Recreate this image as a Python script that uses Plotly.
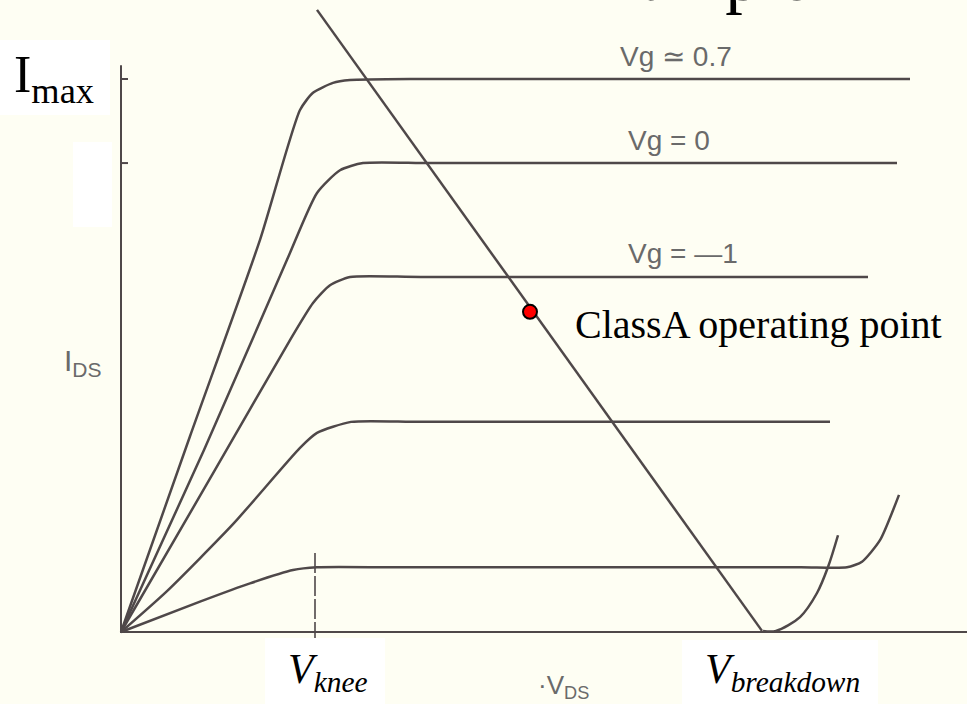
import plotly.graph_objects as go

# ---------------- data (V_DS in volts, I_DS in % of Imax) ----------------
vg07_v = [0, 1.38, 2.78, 3.58, 3.84, 4.24, 4.58, 6.0, 15.78]
vg07_i = [0, 35.4, 70.9, 94.4, 97.5, 99.3, 99.8, 100, 100]

vg0_v = [0, 1.66, 3.32, 3.92, 4.38, 4.84, 6.2, 15.52]
vg0_i = [0, 32.9, 67.3, 79.4, 83.5, 84.8, 84.8, 84.8]

vgm1_v = [0, 1.88, 3.38, 3.84, 4.18, 4.58, 6.0, 14.94]
vgm1_i = [0, 29.3, 52.8, 59.5, 62.7, 64.2, 64.2, 64.2]

vg4_v = [0, 0.92, 2.24, 3.58, 3.92, 4.6, 6.0, 14.18]
vg4_i = [0, 7.4, 19.5, 33.3, 36.0, 38.0, 38.0, 38.0]

vg5_v = [0, 1.58, 2.58, 3.44, 3.92, 5.5, 13.6, 14.52, 14.82, 15.18, 15.56]
vg5_i = [0, 5.5, 8.8, 11.2, 11.7, 11.7, 11.7, 11.7, 12.7, 16.6, 24.8]

brk_v = [12.84, 13.1, 13.58, 13.92, 14.14, 14.34]
brk_i = [0.2, 0.2, 2.7, 7.05, 11.75, 17.5]

load_v = [3.92, 12.82]
load_i = [112.5, 0.2]

op_v = [8.18]
op_i = [57.9]

v_knee = 3.88
knee_i = [14.3, -1.8]

yaxis_top = 102.5
xaxis_end = 17.0
tick_levels = [100, 84.8]

# ---------------- layout geometry ----------------
W, H = 967, 704
X0, Y0 = 121, 632          # pixel position of origin
PXV, PXI = 50.0, 5.53      # pixels per volt / per %
xr = [-X0 / PXV, (W - X0) / PXV]
yr = [(Y0 - H) / PXI, Y0 / PXI]

def px(x):
    return x / W

def py(y):
    return 1 - y / H

LC = "#4f4849"
LW = 2.5
BG = "#fefef3"

fig = go.Figure()

def curve(v, i, shape="spline", width=LW, dash=None, smooth=0.6):
    fig.add_trace(go.Scatter(x=v, y=i, mode="lines",
                             line=dict(color=LC, width=width, shape=shape,
                                       smoothing=smooth, dash=dash),
                             hoverinfo="skip", showlegend=False))

# axes
curve([0, 0], [yaxis_top, -0.2], shape="linear", width=2)
curve([0, xaxis_end], [0, 0], shape="linear", width=2)
for t in tick_levels:
    curve([0, 0.14], [t, t], shape="linear", width=2)

# characteristic curves
curve(vg07_v, vg07_i)
curve(vg0_v, vg0_i)
curve(vgm1_v, vgm1_i)
curve(vg4_v, vg4_i)
curve(vg5_v, vg5_i)
curve(brk_v, brk_i, smooth=0.9)
curve(load_v, load_i, shape="linear")
curve([v_knee, v_knee], knee_i, shape="linear", width=1.6, dash="20px,3px")

# operating point
fig.add_trace(go.Scatter(x=op_v, y=op_i, mode="markers",
                         marker=dict(color="#ff0000", size=14,
                                     line=dict(color="#000000", width=2)),
                         hoverinfo="skip", showlegend=False))

# white boxes
shapes = []
for (x1, y1, x2, y2) in [(0, 40, 110, 115), (73, 142, 112, 227),
                         (265, 638, 385, 704), (682, 640, 878, 704)]:
    shapes.append(dict(type="rect", xref="paper", yref="paper",
                       x0=px(x1), x1=px(x2), y0=py(y2), y1=py(y1),
                       fillcolor="#ffffff", line=dict(width=0), layer="above"))

SERIF = "Liberation Serif, Times New Roman, serif"
SANS = "Liberation Sans, Arial, sans-serif"
GRAY = "#6a6a6a"

ann = []
def label(text, x, y, size, family, color, xa="left", ya="middle"):
    ann.append(dict(text=text, x=px(x), y=py(y), xref="paper", yref="paper",
                    xanchor=xa, yanchor=ya, showarrow=False,
                    font=dict(size=size, family=family, color=color)))

label("Vg \u2243 0.7", 618, 56, 28, SANS, GRAY)
label("Vg = 0", 626, 140, 28, SANS, GRAY)
label("Vg = \u20141", 626, 253, 28, SANS, GRAY)
label("I<sub>DS</sub>", 62, 362, 30, SANS, GRAY)
label("\u00b7V<sub>DS</sub>", 536, 686, 26, SANS, GRAY)
label("I<sub>max</sub>", 12, 78, 52, SERIF, "#000000")
label("<i>V<sub>knee</sub></i>", 286, 672, 42, SERIF, "#000000")
label("<i>V<sub>breakdown</sub></i>", 703, 672, 42, SERIF, "#000000")
label("ClassA operating point", 573, 324, 40, SERIF, "#000000")
label("Example 2 -", 560, -23, 70, SERIF, "#000000")

fig.update_layout(
    width=W, height=H, autosize=False,
    margin=dict(l=0, r=0, t=0, b=0),
    paper_bgcolor=BG, plot_bgcolor=BG,
    xaxis=dict(range=xr, visible=False, fixedrange=True),
    yaxis=dict(range=yr, visible=False, fixedrange=True),
    shapes=shapes, annotations=ann,
)

fig.write_html(
    "out.html",
    config={"displayModeBar": False},
    post_script="document.body.style.margin='0';"
                "document.body.style.background='" + BG + "';",
)
